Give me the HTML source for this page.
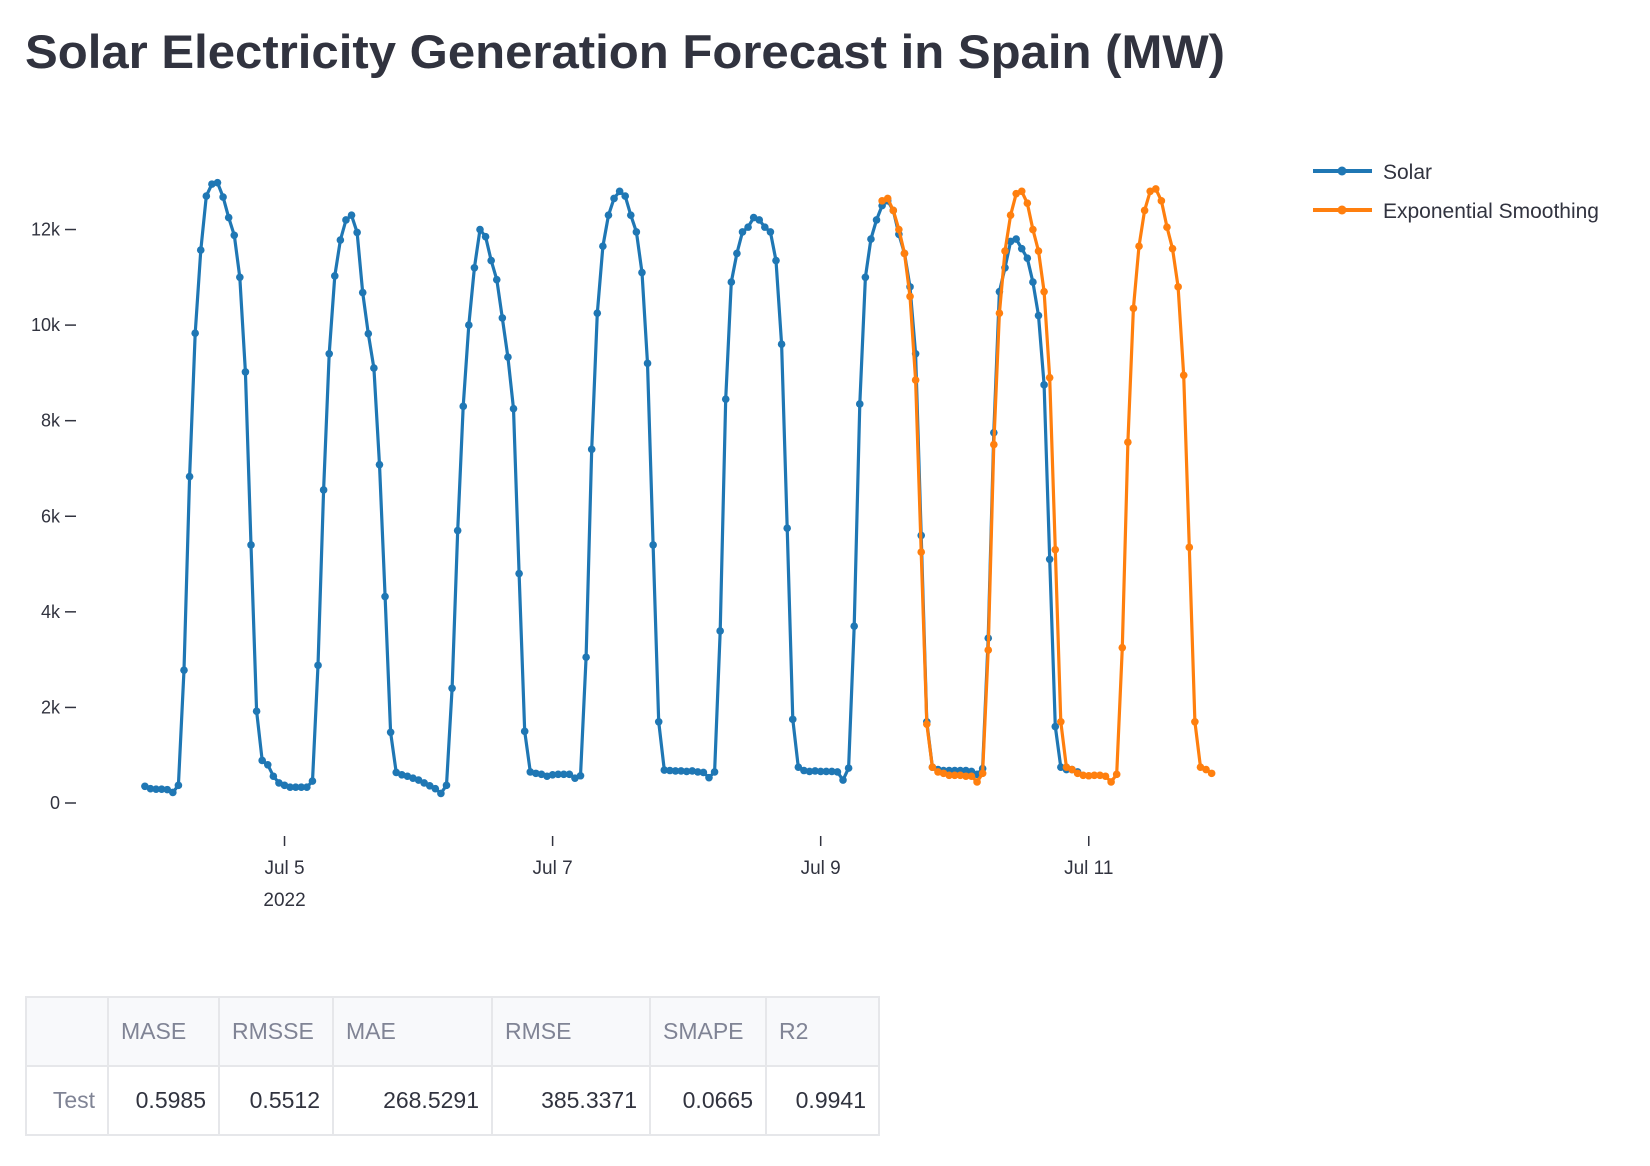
<!DOCTYPE html>
<html><head><meta charset="utf-8">
<style>
html,body{margin:0;padding:0;background:#fff;}
body{width:1650px;height:1166px;position:relative;overflow:hidden;font-family:"Liberation Sans",sans-serif;}
svg{position:absolute;left:0;top:0;}
table{position:absolute;left:25px;top:996px;border-collapse:collapse;table-layout:fixed;width:853px;font-family:"Liberation Sans",sans-serif;font-size:23px;}
td,th{border:2px solid #e6e7ea;font-weight:normal;height:69px;padding:0 12px;box-sizing:border-box;overflow:hidden;white-space:nowrap;}
th{background:#f8f9fb;color:#808495;text-align:left;}
td{color:#31333f;text-align:right;}
td.lbl{color:#808495;background:#fff;}
</style></head><body>
<svg width="1650" height="1166">
  <text x="25" y="68" font-family="Liberation Sans, sans-serif" font-size="47" font-weight="bold" fill="#31333f" textLength="1200" lengthAdjust="spacingAndGlyphs">Solar Electricity Generation Forecast in Spain (MW)</text>
  <g id="yaxis"></g>
  <g id="xaxis"></g>
  <g id="plot"></g>
  <g>
    <g>
      <line x1="1313" y1="171" x2="1372" y2="171" stroke="#1f77b4" stroke-width="4"/>
      <circle cx="1342" cy="171" r="4.5" fill="#1f77b4"/>
      <text x="1383" y="179" font-size="21" fill="#31333f" font-family="Liberation Sans, sans-serif">Solar</text>
    </g>
    <g>
      <line x1="1313" y1="210" x2="1372" y2="210" stroke="#ff7f0e" stroke-width="4"/>
      <circle cx="1342" cy="210" r="4.5" fill="#ff7f0e"/>
      <text x="1383" y="218" font-size="21" fill="#31333f" font-family="Liberation Sans, sans-serif">Exponential Smoothing</text>
    </g>
  </g>
</svg>
<table>
<colgroup><col style="width:82px"><col style="width:111px"><col style="width:114px"><col style="width:159px"><col style="width:158px"><col style="width:116px"><col style="width:113px"></colgroup>
<tr>
<th></th>
<th>MASE</th>
<th>RMSSE</th>
<th>MAE</th>
<th>RMSE</th>
<th>SMAPE</th>
<th>R2</th>
</tr>
<tr>
<td class="lbl">Test</td>
<td>0.5985</td>
<td>0.5512</td>
<td>268.5291</td>
<td>385.3371</td>
<td>0.0665</td>
<td>0.9941</td>
</tr>
</table>
<script>
// hourly data, hour index 0 = Jul 3 23:00
const solarStart = 0;
const solar = [
350,300,290,290,280,220,370,2780,6830,9830,11570,12700,12950,12980,12680,12250,11880,11000,9020,5400,1920,890,800,560,
420,370,330,330,330,330,460,2880,6550,9400,11030,11780,12200,12300,11940,10680,9820,9100,7080,4320,1480,640,590,560,
520,480,420,360,300,200,370,2400,5700,8300,10000,11200,12000,11850,11350,10950,10150,9330,8250,4800,1500,650,620,600,
560,590,600,600,600,520,570,3050,7400,10250,11650,12300,12650,12800,12700,12300,11950,11100,9200,5400,1700,690,680,670,
670,660,670,650,640,530,650,3600,8450,10900,11500,11950,12050,12250,12200,12050,11950,11350,9600,5750,1750,750,680,660,
670,660,660,660,650,480,730,3700,8350,11000,11800,12200,12500,12600,12400,11900,11500,10800,9400,5600,1700,750,700,680,
680,680,680,680,660,600,720,3450,7750,10700,11200,11750,11800,11600,11400,10900,10200,8750,5100,1600,750,700,700,650
];
const forecastStart = 132;
const forecast = [
12600,12650,12400,12000,11500,10600,8850,5250,1650,750,650,620,580,580,580,560,560,440,620,3200,7500,10250,11550,12300,
12750,12800,12550,12000,11550,10700,8900,5300,1700,750,700,620,580,570,580,580,560,440,600,3250,7550,10350,11650,12400,
12800,12850,12600,12050,11600,10800,8950,5350,1700,750,700,620
];
const yTicks = [0,2000,4000,6000,8000,10000,12000];
const yTickLabels = ["0","2k","4k","6k","8k","10k","12k"];
const xTickHours = [25,73,121,169];
const xTickLabels = ["Jul 5","Jul 7","Jul 9","Jul 11"];

const NS="http://www.w3.org/2000/svg";
function xs(h){return 144.9+h*5.585;}
function ys(v){return 803-v*0.04779;}
function mk(tag,attrs,parent){const e=document.createElementNS(NS,tag);for(const k in attrs)e.setAttribute(k,attrs[k]);parent.appendChild(e);return e;}

const yg=document.getElementById('yaxis');
yTicks.forEach((v,i)=>{
  const l=mk('line',{x1:65,x2:76,y1:ys(v),y2:ys(v),stroke:'#31333f','stroke-width':1.5},yg);
  
  
  const t=mk('text',{x:60,y:ys(v)+6,'text-anchor':'end','font-size':18,fill:'#31333f','font-family':'Liberation Sans, sans-serif'},yg);
  t.textContent=yTickLabels[i];
  
  
});
const xg=document.getElementById('xaxis');
xTickHours.forEach((h,i)=>{
  const l=mk('line',{x1:xs(h),x2:xs(h),y1:836,y2:846,stroke:'#31333f','stroke-width':1.5},xg);
  
  
  const t=mk('text',{x:xs(h),y:874,'text-anchor':'middle','font-size':19,fill:'#31333f','font-family':'Liberation Sans, sans-serif'},xg);
  t.textContent=xTickLabels[i];
  
  
});
const yr=mk('text',{x:xs(xTickHours[0]),y:906,'text-anchor':'middle','font-size':19,fill:'#31333f','font-family':'Liberation Sans, sans-serif'},xg);
yr.textContent="2022";



const pg=document.getElementById('plot');
function series(vals,start,color,name){
  const g=mk('g',{},pg);
  
  
  const pts=vals.map((v,i)=>xs(start+i).toFixed(1)+','+ys(v).toFixed(1)).join(' ');
  const pl=mk('polyline',{points:pts,fill:'none',stroke:color,'stroke-width':3.2,'stroke-linejoin':'round'},g);
  
  
  vals.forEach((v,i)=>{
    const c=mk('circle',{cx:xs(start+i),cy:ys(v),r:3.8,fill:color},g);
    
    
  });
}
series(solar,solarStart,'#1f77b4','solar-series');
series(forecast,forecastStart,'#ff7f0e','forecast-series');
</script>
</body></html>
